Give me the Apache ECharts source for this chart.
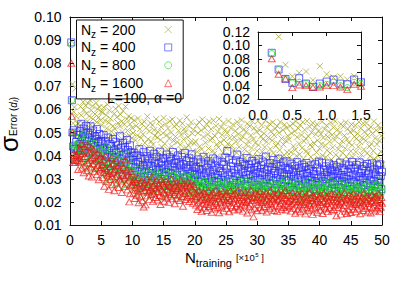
<!DOCTYPE html>
<html><head><meta charset="utf-8">
<script src="https://cdn.jsdelivr.net/npm/echarts@6/dist/echarts.min.js"></script>
<style>html,body{margin:0;padding:0;background:#fff}#c{width:407px;height:285px}</style>
</head><body><div id="c"></div>
<script>
// N_training grid (×10^5): first sample and spacing
const xStart = 0.2, xStep = 0.1;
const nzLabels = ['200', '400', '800', '1600'];
const xTicksMain = [0, 50, 5];      // min, max, interval
const yTicksMain = [0.01, 0.10, 0.01];
const xTicksInset = [0, 1.5, 0.5];
const yTicksInset = [0.02, 0.12, 0.02];
const insetYTickLabels = [0.02, 0.04, 0.06, 0.08, 0.10, 0.12];
const valueUnit = 1e-4;              // values below are sigma_Error × 10^4

const err200 = [1350,1130,710,540,590,610,480,690,570,520,540,490,540,450,
668,612,575,690,541,633,598,655,520,617,582,700,549,626,503,571,640,534,596,487,615,559,652,512,580,470,628,545,602,495,566,610,478,553,590,
531,588,462,609,497,552,430,575,518,621,471,543,596,412,560,505,637,484,529,449,582,516,603,438,566,492,541,615,457,527,578,420,549,503,594,466,535,480,612,445,558,509,427,571,488,536,405,562,476,520,
498,421,553,376,467,529,402,488,561,355,442,515,389,476,538,410,493,364,547,455,386,521,433,570,471,348,505,419,541,462,397,532,448,373,511,486,425,558,359,479,
503,414,546,391,468,524,437,352,497,563,405,452,537,382,489,428,518,366,474,549,412,500,440,557,378,465,527,399,483,345,534,459,416,508,371,552,447,491,424,539,
385,470,516,361,502,435,566,408,481,443,527,394,458,544,372,496,419,512,453,380,
462,389,531,417,498,352,545,440,376,509,428,557,395,481,343,520,456,403,537,370,492,431,548,384,467,515,339,475,422,553,408,486,361,529,449,397,504,436,559,379,
458,523,346,490,413,541,468,387,512,434,365,497,451,550,401,476,333,518,443,392,535,424,480,357,507,461,412,546,381,493,438,525,368,469,554,405,483,349,514,427,
390,501,447,539,374,463,410,527,355,488,433,548,398,472,519,383,455,340,503,421,550,446,393,510,365,484,532,417,471,348,496,437,552,386,460,521,404,479,362,538,
429,505,375,466,544,411,489,351,517,442,396,528,453,370,499,424,546,388,474,337,511,448,402,534,377,465,520,415,486,359,
470,392,528,415,497,356,539,441,378,506,425,548,399,480,341,518,452,406,533,372,489,433,545,386,462,512,335,474,420,550,409,484,360,525,447,395,501,437,542,381,
455,521,348,492,414,536,466,389,509,431,367,494,450,547,400,477,338,515,444,393,531,423,482,359,504,460,411,543,383,490,436,522,369,468,549,404,485,351,513,428,
391,498,446,537,376,463,412,526,357,487,432,544,397,471,516,384,456,343,502,419,535,445,394,508,366,483,530,416,473,350,495,438,546,387,459,519,405,478,363,540,
427,503,374,465,541,410,488,353,514,440,398,524,451,371,496,421,548,385,475,339,510,449,401,532,379,464,517,418,486,362];

const err400 = [890,640,500,440,510,430,380,430,460,490,430,420,490,450,
505,452,538,471,423,496,517,441,482,398,529,463,435,501,478,412,490,527,447,468,389,509,456,431,484,402,472,515,428,459,385,494,440,417,463,
452,381,427,489,346,408,463,372,431,394,478,337,419,451,365,441,403,327,472,389,425,358,460,412,341,396,447,376,418,484,352,433,387,315,456,401,369,438,343,410,
468,379,424,333,392,445,361,414,326,399,
381,316,412,347,289,365,402,331,373,296,428,352,308,391,336,277,359,415,324,386,343,269,398,362,311,379,334,421,293,355,318,387,341,264,408,370,303,349,395,327,
282,366,338,417,299,374,322,356,390,273,345,312,384,330,405,287,361,339,270,393,325,378,306,352,416,291,368,334,260,383,315,347,401,296,371,328,357,279,394,336,
302,362,319,411,285,350,376,309,342,266,389,323,358,297,406,333,372,292,348,317,
306,351,268,327,384,289,342,255,318,371,296,337,262,395,313,280,358,324,247,349,302,376,285,331,264,366,310,292,388,339,271,320,357,243,303,379,315,286,346,260,
333,297,372,252,325,361,279,309,392,288,344,420,266,318,383,300,251,354,327,274,369,294,337,258,312,380,283,405,322,349,263,305,373,290,341,248,328,365,298,356,
276,316,390,269,335,301,362,244,320,347,287,377,311,257,339,293,367,326,272,351,304,385,261,330,295,359,249,317,374,284,343,270,323,396,299,336,265,352,308,281,
368,314,246,345,291,381,325,259,333,302,363,277,319,387,254,340,297,355,286,329,250,371,310,268,348,294,376,321,263,338,
297,342,263,318,365,281,330,252,309,356,288,327,246,372,303,270,347,315,259,336,293,361,276,322,249,351,300,284,368,325,262,311,343,241,296,358,306,278,333,255,
320,289,363,248,314,349,272,302,374,283,331,257,308,369,291,244,340,317,267,354,299,328,251,305,366,279,345,312,260,337,286,321,359,274,334,247,310,352,292,326,
265,303,370,258,316,290,346,243,307,339,280,362,301,253,329,285,357,313,269,344,295,373,254,319,287,348,245,309,360,277,332,261,311,371,294,324,256,341,298,273,
355,304,242,335,282,364,315,250,323,293,350,268,306,367,248,327,290,343,276,318,244,358,300,264,338,287,363,312,255,330];

const err800 = [880,640,500,440,450,430,380,400,420,450,400,370,450,430,
462,405,487,371,438,416,352,494,427,389,451,364,475,398,342,443,409,381,466,337,420,395,454,361,432,376,403,348,441,387,333,414,368,425,379,
389,331,418,356,297,372,437,315,364,344,402,283,350,381,322,425,339,301,392,358,276,374,336,410,309,348,385,290,362,326,399,318,270,355,341,378,294,332,413,305,
365,281,346,323,387,264,334,359,298,312,
305,271,332,248,297,319,262,286,341,229,293,312,255,279,327,238,301,267,318,284,216,295,336,259,309,274,244,322,288,263,345,281,233,303,270,315,252,292,326,241,
277,308,260,298,220,331,284,256,313,272,236,299,267,323,250,287,310,231,279,302,258,338,273,246,294,316,265,225,306,281,249,320,289,262,301,239,276,328,257,295,
214,284,311,268,243,304,280,253,319,271,235,297,261,314,245,288,226,307,275,256,
261,235,284,217,272,248,296,229,256,279,206,266,243,290,223,259,281,238,214,270,252,293,228,264,245,276,209,257,287,233,268,219,250,298,241,274,226,262,203,283,
247,271,232,258,291,212,265,237,279,253,221,286,244,269,207,254,295,236,263,227,277,249,215,282,260,231,273,243,297,218,255,267,225,288,240,262,210,275,251,234,
289,246,270,204,259,281,229,264,242,299,216,257,274,237,268,222,285,248,261,211,278,239,253,292,224,266,245,213,280,256,230,271,247,284,205,260,238,276,252,220,
294,243,265,227,258,283,214,269,249,236,273,208,257,287,232,263,244,278,219,254,282,226,267,241,296,215,259,235,272,250,
253,227,276,209,264,240,288,221,248,271,198,258,235,282,215,251,273,230,206,262,244,285,220,256,237,268,201,249,279,225,260,211,242,290,233,266,218,254,195,275,
239,263,224,250,283,204,257,229,271,245,213,278,236,261,199,246,287,228,255,219,269,241,207,274,252,223,265,235,289,210,247,259,217,280,232,254,202,267,243,226,
281,238,262,196,251,273,221,256,234,286,208,249,266,229,260,214,277,240,253,203,270,231,245,284,216,258,237,205,272,248,222,263,239,276,197,252,230,268,244,212,
286,235,257,219,250,275,206,261,241,228,265,200,249,279,224,255,236,270,211,246,274,218,259,233,288,207,251,227,264,242];

const err1600 = [800,570,500,370,410,400,370,380,400,400,380,340,420,390,
431,374,452,346,409,388,326,441,397,359,420,335,447,368,312,415,380,351,436,307,392,365,425,331,402,344,377,318,411,357,296,386,339,398,349,
362,305,384,327,268,346,398,289,334,316,371,254,323,353,297,390,311,274,365,330,248,341,308,379,282,320,356,262,337,299,368,290,241,325,313,349,266,303,382,277,
338,252,317,295,200,235,309,331,271,286,
276,238,297,215,263,284,229,251,305,196,258,279,222,246,291,205,268,178,283,249,187,262,299,226,274,243,211,287,255,232,309,248,201,270,237,281,219,259,293,208,
245,273,228,264,189,296,252,224,278,240,203,266,234,288,217,254,276,198,247,269,225,301,241,213,261,282,232,192,272,250,216,285,257,230,268,206,244,292,223,263,
181,251,279,236,210,271,248,220,286,239,202,265,228,280,212,256,194,274,243,222,
213,186,238,167,224,199,249,178,207,231,158,218,194,243,173,210,235,189,163,221,203,246,180,216,196,229,155,208,240,184,220,169,201,252,192,227,176,214,153,237,
198,223,182,209,244,161,217,187,232,204,171,239,195,222,157,206,248,185,215,177,230,200,165,236,211,181,226,193,250,168,207,219,174,242,190,212,160,228,202,183,
241,197,222,152,209,234,179,216,191,251,166,206,225,135,219,172,238,199,212,162,231,188,204,245,175,218,196,164,233,207,180,224,198,237,156,213,189,229,203,170,
247,193,217,178,209,235,163,221,200,186,226,159,208,240,182,214,194,230,168,205,236,176,219,191,249,165,211,184,227,201,
205,179,228,160,216,192,239,171,199,223,151,210,187,234,166,202,226,182,157,213,196,237,173,208,189,221,148,200,231,177,212,162,194,240,185,219,169,206,146,229,
191,215,175,201,235,155,209,181,224,197,164,230,188,214,150,199,238,178,207,170,222,193,158,227,203,174,218,186,236,161,200,211,167,233,183,204,140,220,195,176,
232,190,214,147,201,225,172,208,184,239,159,198,217,150,211,165,229,192,204,154,223,181,196,236,168,210,189,157,225,199,173,216,191,228,149,205,182,221,196,163,
238,186,209,171,201,226,156,213,193,179,218,152,200,231,175,206,187,222,161,197,227,169,211,184,234,158,203,177,219,194];

const FONT = '"Liberation Sans", Arial, Helvetica, sans-serif';
const colors = ['#a0a018', '#2a2aff', '#14d814', '#f01414'];
const symbols = ['path://M0,0L10,10M10,0L0,10', 'rect', 'circle', 'triangle'];
const symbolSizes = [6, 7, 6, [7, 6]];
const allValues = [err200, err400, err800, err1600];
const names = nzLabels.map(n => 'N_z = ' + n);

function toPoints(arr) {
  return arr.map((v, i) => [Math.round((xStart + i * xStep) * 10) / 10, v * valueUnit]);
}
const mainPts = allValues.map(toPoints);
const insetPts = mainPts.map(p => p.filter(d => d[0] <= xTicksInset[1] + 1e-9 && d[1] <= yTicksInset[1]));

const axisCol = '#111';
function xAx(grid, t, pos, showLabel, dec, margin) {
  return {type: 'value', gridIndex: grid, min: t[0], max: t[1], interval: t[2], position: pos,
    axisLine: {show: true, onZero: false, lineStyle: {color: axisCol, width: 1}},
    axisTick: {show: true, inside: true, length: 4, lineStyle: {color: axisCol}},
    axisLabel: {show: showLabel, fontSize: 14, fontFamily: FONT, color: '#000', margin: margin,
      showMinLabel: true, showMaxLabel: true, hideOverlap: false,
      formatter: v => dec ? v.toFixed(dec) : String(Math.round(v))},
    splitLine: {show: false}};
}
function yAx(grid, t, pos, showLabel, margin, customLabels, showLineTicks) {
  const lab = {show: showLabel, fontSize: 14, fontFamily: FONT, color: '#000', margin: margin,
      showMinLabel: true, showMaxLabel: true, hideOverlap: false,
      formatter: v => v.toFixed(2)};
  if (customLabels) lab.customValues = customLabels;
  return {type: 'value', gridIndex: grid, min: t[0], max: t[1], interval: t[2], position: pos,
    axisLine: {show: showLineTicks, onZero: false, lineStyle: {color: axisCol, width: 1}},
    axisTick: {show: showLineTicks, inside: true, length: 4, lineStyle: {color: axisCol}},
    axisLabel: lab,
    splitLine: {show: false}};
}
// the inset's tick labels are split over two overlaid left axes so that none is dropped
const insetLabelsA = insetYTickLabels.filter((v, i) => i % 2 === 0);
const insetLabelsB = insetYTickLabels.filter((v, i) => i % 2 === 1);

const series = [];
mainPts.forEach((pts, k) => series.push({
  type: 'scatter', name: names[k], xAxisIndex: 0, yAxisIndex: 0, data: pts,
  symbol: symbols[k], symbolSize: symbolSizes[k], clip: true, silent: true,
  itemStyle: {color: 'rgba(0,0,0,0)', borderColor: colors[k], borderWidth: 1, opacity: 0.7}
}));
insetPts.forEach((pts, k) => series.push({
  type: 'scatter', name: names[k], xAxisIndex: 2, yAxisIndex: 2, data: pts,
  symbol: symbols[k], symbolSize: symbolSizes[k], clip: false, silent: true,
  itemStyle: {color: 'rgba(0,0,0,0)', borderColor: colors[k], borderWidth: 1, opacity: 0.7}
}));

const richBase = {fontFamily: FONT, color: '#000', verticalAlign: 'top', align: 'left'};
const chart = echarts.init(document.getElementById('c'), null, {renderer: 'svg', width: 407, height: 285});
chart.setOption({
  animation: false,
  backgroundColor: '#fff',
  grid: [
    {left: 70, right: 25, top: 17, bottom: 60},
    {left: 258, right: 46, top: 32, bottom: 186}
  ],
  xAxis: [
    xAx(0, xTicksMain, 'bottom', true, 0, 8),
    xAx(0, xTicksMain, 'top', false, 0, 8),
    xAx(1, xTicksInset, 'bottom', true, 1, 9),
    xAx(1, xTicksInset, 'top', false, 1, 9)
  ],
  yAxis: [
    yAx(0, yTicksMain, 'left', true, 8.5, null, true),
    yAx(0, yTicksMain, 'right', false, 8, null, true),
    yAx(1, yTicksInset, 'left', true, 8, insetLabelsA, true),
    yAx(1, yTicksInset, 'right', false, 8, null, true),
    yAx(1, yTicksInset, 'left', true, 8, insetLabelsB, false)
  ],
  legend: {
    orient: 'vertical', left: 76.5, top: 20, align: 'right',
    padding: [2.5, 11, 5.5, 4.5], itemGap: 0.7, itemWidth: 7, itemHeight: 7,
    borderColor: '#111', borderWidth: 1, backgroundColor: '#fff', selectedMode: false,
    data: names.map((n, k) => ({name: n, icon: symbols[k],
      itemStyle: {color: 'rgba(0,0,0,0)', borderColor: colors[k], borderWidth: 1, opacity: 0.6}})),
    formatter: name => '{n|N}{z|z}{t| = ' + name.split(' = ')[1] + '}',
    textStyle: {width: 78.7, fontFamily: FONT, color: '#000', rich: {
      n: Object.assign({}, richBase, {fontSize: 14, height: 14, lineHeight: 14}),
      z: Object.assign({}, richBase, {fontSize: 10, height: 10, lineHeight: 14, padding: [7.2, 0, 0, 0]}),
      t: Object.assign({}, richBase, {fontSize: 14, height: 14, lineHeight: 14})
    }}
  },
  graphic: [
    {type: 'text', x: 107, y: 98, z: 10, silent: true,
      style: {text: 'L=100, α =0', font: '14px ' + FONT, fill: '#000', align: 'left', verticalAlign: 'middle'}},
    {type: 'text', x: 185, y: 250.3, z: 10, silent: true,
      style: {text: '{n|N}{t|training}{b|[×10}{s|5}{c| ]}', align: 'left', verticalAlign: 'top', fill: '#000',
        rich: {
          n: Object.assign({}, richBase, {fontSize: 15, height: 15, lineHeight: 20}),
          t: Object.assign({}, richBase, {fontSize: 11, height: 11, lineHeight: 20, padding: [7.7, 0, 0, 0]}),
          b: Object.assign({}, richBase, {fontSize: 9.5, height: 9.5, lineHeight: 20, padding: [2.25, 0, 0, 4]}),
          s: Object.assign({}, richBase, {fontSize: 6, height: 6, lineHeight: 20, padding: [1.7, 0, 0, 0.5]}),
          c: Object.assign({}, richBase, {fontSize: 9.5, height: 9.5, lineHeight: 20, padding: [2.25, 0, 0, 0]})
        }}},
    {type: 'text', x: 0.5, y: 152, rotation: Math.PI / 2, z: 10, silent: true,
      style: {text: '{s|σ}{e|Error (}{d|d}{i|i}{e|)}', align: 'left', verticalAlign: 'top', fill: '#000',
        rich: {
          s: Object.assign({}, richBase, {fontSize: 26, height: 16, lineHeight: 16}),
          e: Object.assign({}, richBase, {fontSize: 10, height: 10, lineHeight: 16, padding: [8.2, 0, 0, 0]}),
          d: Object.assign({}, richBase, {fontSize: 10, fontStyle: 'italic', height: 10, lineHeight: 16, padding: [8.2, 0, 0, 0]}),
          i: Object.assign({}, richBase, {fontSize: 7, fontStyle: 'italic', height: 7, lineHeight: 16, padding: [11.7, 0, 0, 0.3]})
        }}}
  ],
  series: series
});
</script>
</body></html>
